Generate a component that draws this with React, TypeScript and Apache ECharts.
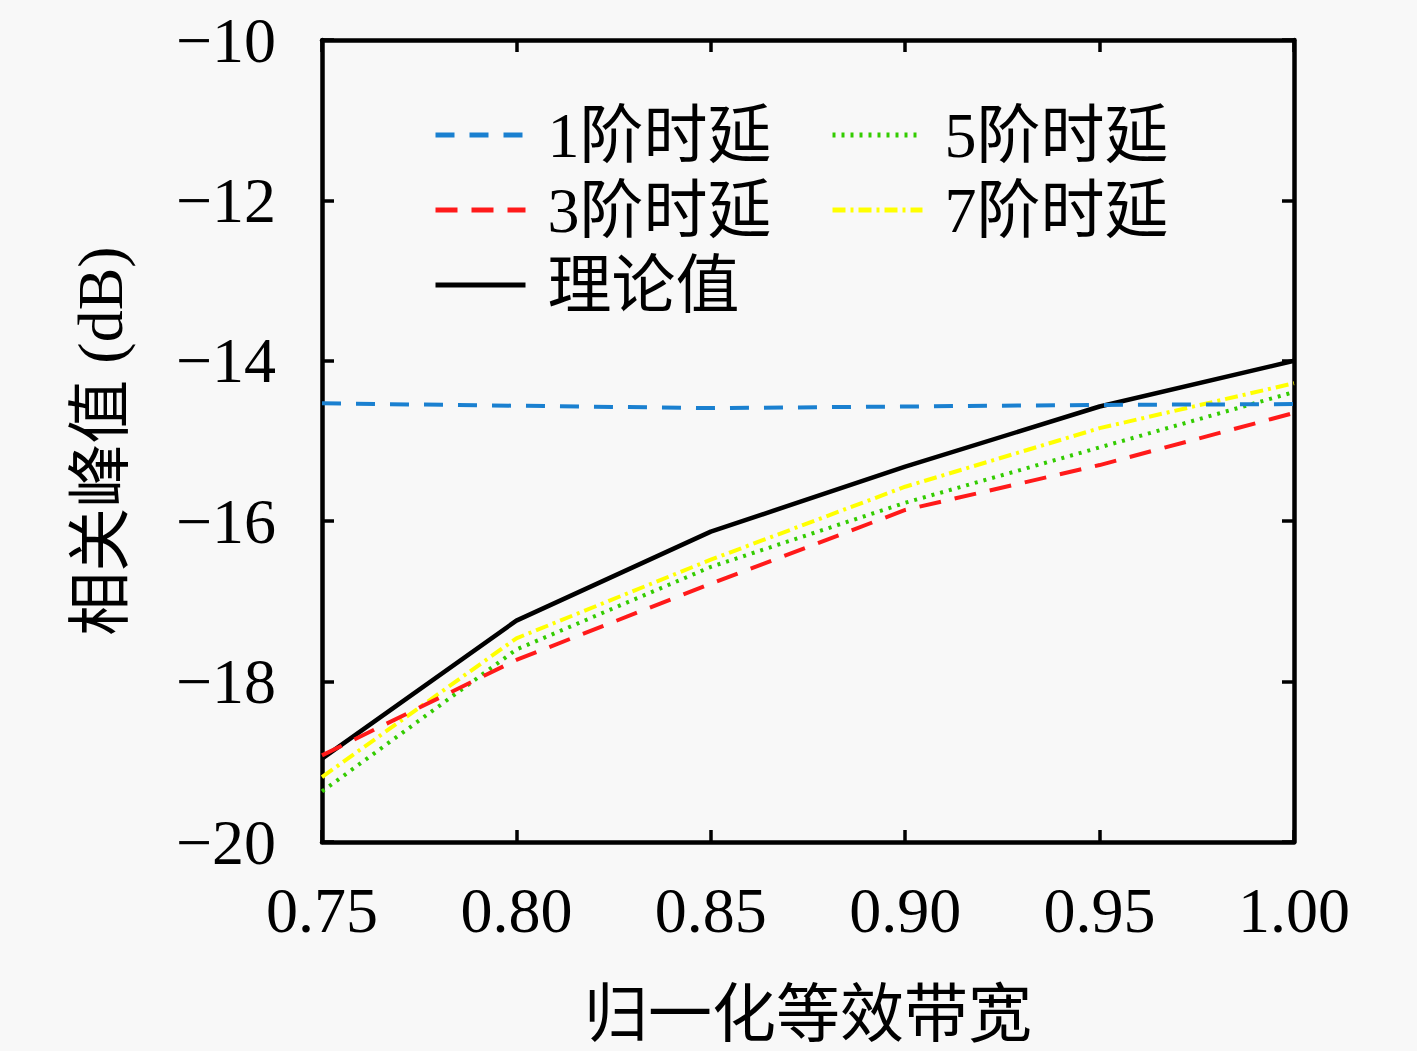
import React, { useEffect, useRef } from 'react';
import * as echarts from 'echarts';

const xLabels = ['0.75', '0.80', '0.85', '0.90', '0.95', '1.00'];
const theory = [-18.96, -17.24, -16.13, -15.32, -14.57, -14.0];
const delay1 = [-14.53, -14.56, -14.59, -14.57, -14.55, -14.54];
const delay3 = [-18.92, -17.73, -16.78, -15.86, -15.3, -14.65];
const delay5 = [-19.37, -17.6, -16.57, -15.77, -15.08, -14.39];
const delay7 = [-19.19, -17.46, -16.48, -15.57, -14.84, -14.28];

const FONT = '"Liberation Serif", "Noto Sans CJK SC", serif';

export default function App() {
  const ref = useRef<HTMLDivElement>(null);
  useEffect(() => {
    const chart = echarts.init(ref.current as HTMLDivElement, null, { renderer: 'svg' });
    const legendText = {
      fontSize: 64,
      fontFamily: FONT,
      color: '#000',
      lineHeight: 64,
      padding: [0, 0, 0, 17],
    };
    const axisLineStyle = { color: '#000', width: 4.5 };
    const tickStyle = { color: '#000', width: 3.5 };
    const legendBase = {
      orient: 'vertical',
      top: 103,
      itemWidth: 90,
      itemHeight: 20,
      itemGap: 11,
      padding: 0,
      textStyle: legendText,
      itemStyle: { opacity: 0 },
      lineStyle: { width: 5 },
    };
    chart.setOption({
      animation: false,
      backgroundColor: '#f8f8f8',
      grid: { left: 322, right: 123, top: 40, bottom: 209, containLabel: false },
      legend: [
        { ...legendBase, data: ['1阶时延', '3阶时延', '理论值'], left: 433 },
        { ...legendBase, data: ['5阶时延', '7阶时延'], left: 830 },
      ],
      xAxis: [
        {
          type: 'category',
          data: xLabels,
          boundaryGap: false,
          name: '归一化等效带宽',
          nameLocation: 'middle',
          nameGap: 140,
          nameTextStyle: { fontSize: 64, fontFamily: FONT, color: '#000' },
          axisLine: { show: true, lineStyle: axisLineStyle },
          axisTick: { show: true, inside: true, length: 12, lineStyle: tickStyle },
          axisLabel: { fontSize: 64, fontFamily: FONT, color: '#000', margin: 36 },
          splitLine: { show: false },
        },
        {
          type: 'category',
          data: xLabels,
          boundaryGap: false,
          position: 'top',
          axisLine: { show: true, lineStyle: axisLineStyle },
          axisTick: { show: true, inside: true, length: 12, lineStyle: tickStyle },
          axisLabel: { show: false },
          splitLine: { show: false },
        },
      ],
      yAxis: [
        {
          type: 'value',
          min: -20,
          max: -10,
          interval: 2,
          name: '相关峰值 (dB)',
          nameLocation: 'middle',
          nameGap: 190,
          nameTextStyle: { fontSize: 64, fontFamily: FONT, color: '#000' },
          axisLine: { show: true, lineStyle: axisLineStyle },
          axisTick: { show: true, inside: true, length: 12, lineStyle: tickStyle },
          axisLabel: {
            fontSize: 64,
            fontFamily: FONT,
            color: '#000',
            margin: 46,
            formatter: (v: number) => String(v).replace('-', '\u2212'),
          },
          splitLine: { show: false },
        },
        {
          type: 'value',
          min: -20,
          max: -10,
          interval: 2,
          position: 'right',
          axisLine: { show: true, lineStyle: axisLineStyle },
          axisTick: { show: true, inside: true, length: 12, lineStyle: tickStyle },
          axisLabel: { show: false },
          splitLine: { show: false },
        },
      ],
      series: [
        {
          name: '理论值',
          type: 'line',
          data: theory,
          symbol: 'none',
          lineStyle: { color: '#000', width: 4.5, type: 'solid' },
          itemStyle: { color: '#000' },
        },
        {
          name: '7阶时延',
          type: 'line',
          data: delay7,
          symbol: 'none',
          lineStyle: { color: '#ffff00', width: 4, type: [13, 5, 3, 5] },
          itemStyle: { color: '#ffff00' },
        },
        {
          name: '5阶时延',
          type: 'line',
          data: delay5,
          symbol: 'none',
          lineStyle: { color: '#33cc00', width: 4, type: [3, 6] },
          itemStyle: { color: '#33cc00' },
        },
        {
          name: '3阶时延',
          type: 'line',
          data: delay3,
          symbol: 'none',
          lineStyle: { color: '#ff1a1a', width: 4, type: [22, 14] },
          itemStyle: { color: '#ff1a1a' },
        },
        {
          name: '1阶时延',
          type: 'line',
          data: delay1,
          symbol: 'none',
          lineStyle: { color: '#1a80d0', width: 4, type: [19, 15] },
          itemStyle: { color: '#1a80d0' },
        },
      ],
    });
    return () => chart.dispose();
  }, []);
  return (
    <div
      ref={ref}
      style={{ position: 'absolute', left: 0, top: 0, width: 1417, height: 1051 }}
    />
  );
}
